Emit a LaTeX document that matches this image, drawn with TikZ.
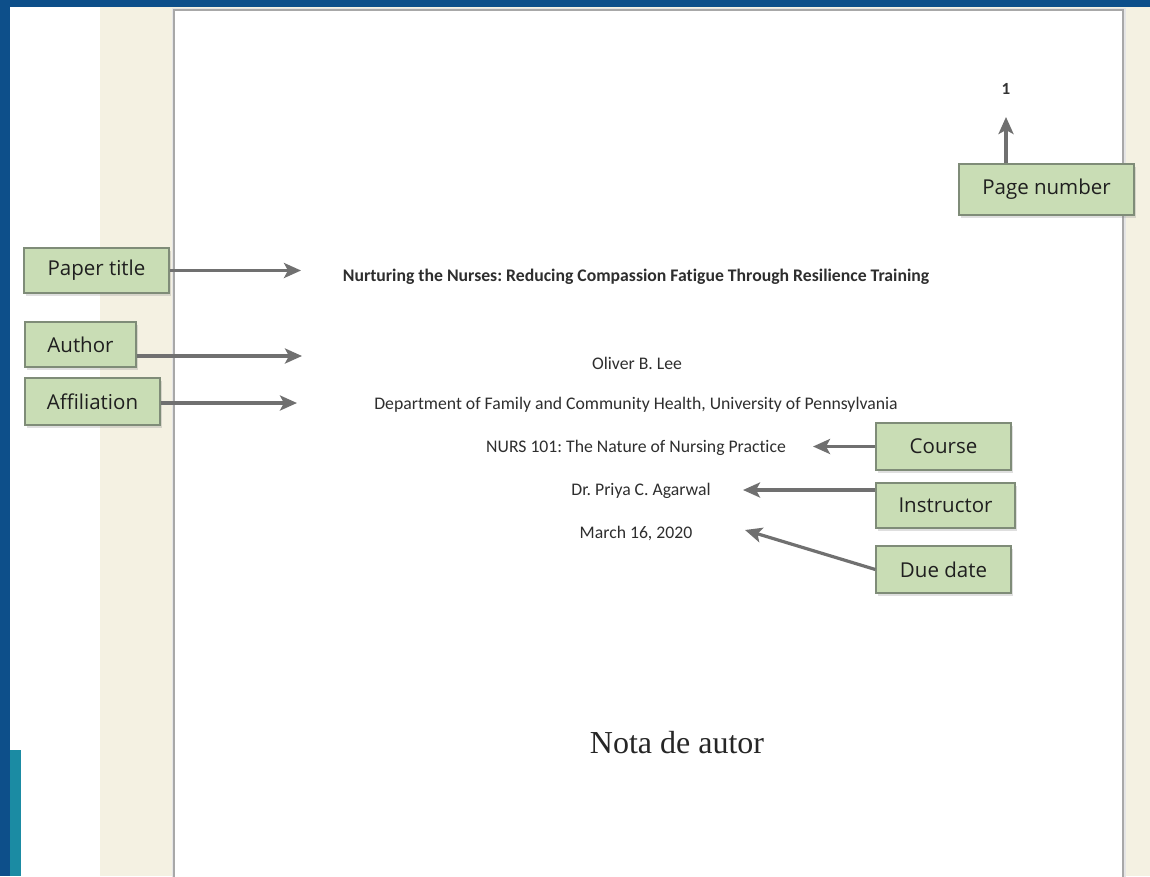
\documentclass[tikz,border=0pt]{standalone}
\usepackage{fontspec}
\setmainfont{Carlito}[Ligatures=NoCommon]
\newfontfamily\labfont{Open Sans}
\newfontfamily\serfont{Liberation Serif}
\usetikzlibrary{arrows.meta,shadows}
\definecolor{bgblue}{HTML}{0D4F8A}
\definecolor{beigebg}{HTML}{F4F1E2}
\definecolor{tealstrip}{HTML}{1B8BA3}
\definecolor{boxgreen}{HTML}{C9DDB5}
\definecolor{boxedge}{HTML}{7F8C78}
\definecolor{arrowgray}{HTML}{707070}
\definecolor{pagegray}{HTML}{A8A8A8}
\frenchspacing
\begin{document}
\begin{tikzpicture}[x=1pt,y=-1pt,
  lab/.style={draw=boxedge, line width=1.2pt, fill=boxgreen, text=black!88,
    font=\labfont\fontsize{20.5}{24}\selectfont, inner sep=0pt,
    drop shadow={shadow xshift=2pt, shadow yshift=-2.5pt, opacity=0.25}},
  body/.style={font=\fontsize{17.7}{21}\selectfont, text=black!82, inner sep=0pt},
  arr/.style={draw=arrowgray, line width=3.2pt, -{Stealth[length=17pt,width=15pt,inset=4pt]}}]
\useasboundingbox (0,0) rectangle (1150,876);
% background
\fill[white] (0,0) rectangle (1150,876);
\fill[beigebg] (100,7) rectangle (1150,876);
\fill[bgblue] (0,0) rectangle (1150,7);
\fill[bgblue] (0,0) rectangle (10,876);
\fill[tealstrip] (10,750) rectangle (21,876);
% page
\fill[black!10] (172,8) rectangle (1126,880);
\draw[pagegray, line width=2pt, fill=white] (174,10) rectangle (1123,880);
% page texts
\node[font=\bfseries\fontsize{17}{19}\selectfont, text=black!80, inner sep=0pt] (pnum) at (1006,89) {1};
\node[body, font=\bfseries\fontsize{17.7}{21}\selectfont] (title) at (636,277) {Nurturing the Nurses: Reducing Compassion Fatigue Through Resilience Training};
\node[body] (author) at (637,363) {Oliver B. Lee};
\node[body] (affil) at (636,405) {Department of Family and Community Health, University of Pennsylvania};
\node[body] (course) at (636,448) {NURS 101: The Nature of Nursing Practice};
\node[body] (instr) at (641,491) {Dr. Priya C. Agarwal};
\node[body] (date) at (636,533) {March 16, 2020};
\node[font=\serfont\fontsize{32}{38}\selectfont, text=black!85, inner sep=0pt] (note) at (677,743) {Nota de autor};
% labels
\node[lab, minimum width=175pt, minimum height=51pt] (lpn) at (1046.5,189.5) {Page number};
\node[lab, minimum width=145pt, minimum height=45pt] (lpt) at (96.5,270.5) {Paper title};
\node[lab, minimum width=111pt, minimum height=45pt] (lau) at (80.5,344.5) {Author};
\node[lab, minimum width=135pt, minimum height=47pt] (laf) at (92.5,401.5) {Affiliation};
\node[lab, minimum width=135pt, minimum height=47pt] (lco) at (943.5,446.5) {Course};
\node[lab, minimum width=139pt, minimum height=45pt] (lin) at (945.5,505.5) {Instructor};
\node[lab, minimum width=135pt, minimum height=47pt] (ldd) at (943.5,569.5) {Due date};
% arrow tips
\coordinate (tpn) at (1006,117);
\coordinate (tpt) at (301,270.5);
\coordinate (tau) at (302,356);
\coordinate (taf) at (297,403);
\coordinate (tco) at (813,446.5);
\coordinate (tin) at (743,490);
\coordinate (tdd) at (745,530);
% arrows
\draw[arr] (lpn.north -| tpn) -- (tpn);
\draw[arr] (lpt.east) -- (tpt);
\draw[arr] (lau.east |- tau) -- (tau);
\draw[arr] (laf.east |- taf) -- (taf);
\draw[arr] (lco.west) -- (tco);
\draw[arr] (lin.west |- tin) -- (tin);
\draw[arr] (ldd.west) -- (tdd);
\end{tikzpicture}
\end{document}
